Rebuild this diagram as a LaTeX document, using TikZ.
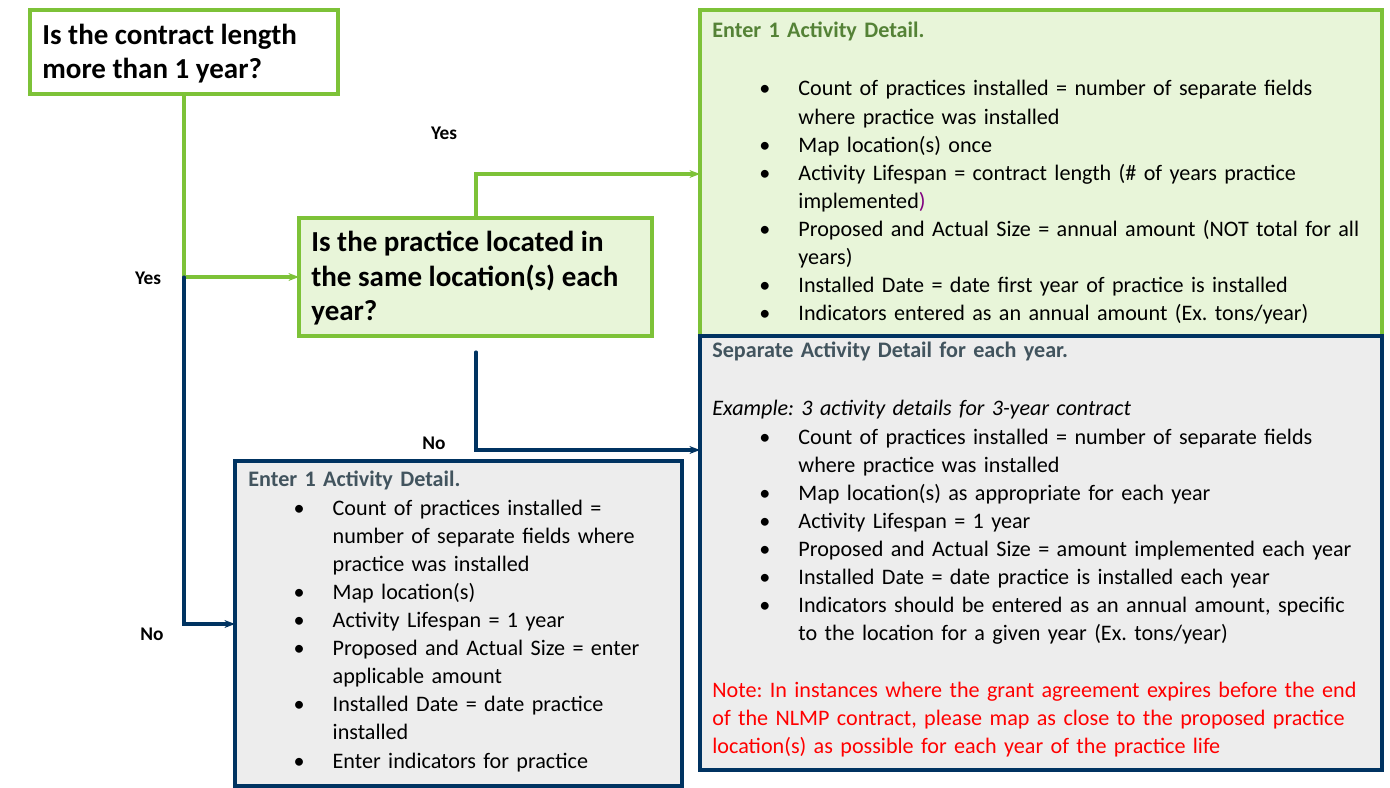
\documentclass[tikz,border=0pt]{standalone}
\usepackage{fontspec}
\setmainfont{Carlito}
\usepackage{enumitem}
\usetikzlibrary{arrows.meta}
\definecolor{qgreen}{rgb}{0.49,0.76,0.22}
\definecolor{lgreen}{rgb}{0.91,0.96,0.85}
\definecolor{dgreen}{rgb}{0.33,0.51,0.21}
\definecolor{dblue}{rgb}{0.0,0.2,0.38}
\definecolor{lgray}{rgb}{0.93,0.93,0.93}
\definecolor{sgray}{rgb}{0.26,0.33,0.37}
\newcommand{\bodyfont}{\fontsize{12.6}{16}\selectfont\frenchspacing\hyphenpenalty=10000\exhyphenpenalty=10000}
\setlist[itemize]{label=\textbullet,topsep=0pt,itemsep=0pt,parsep=0pt,partopsep=0pt}
\begin{document}
\begin{tikzpicture}[x=0.02cm,y=-0.02cm,line cap=round,
  qbox/.style={draw=qgreen,line width=2pt},
  gbox/.style={draw=qgreen,fill=lgreen,line width=2pt},
  bbox/.style={draw=dblue,fill=lgray,line width=2pt},
  qtext/.style={anchor=north west,inner sep=0pt,align=left,font=\fontsize{16.5}{19.5}\selectfont\bfseries},
  btext/.style={anchor=north west,inner sep=0pt,align=left,font=\bodyfont},
  yes/.style={qgreen,line width=1.8pt,-{Stealth[length=6pt]}},
  no/.style={dblue,line width=1.8pt,-{Stealth[length=6pt]}},
  lbl/.style={font=\fontsize{11}{13}\selectfont\bfseries}]
\useasboundingbox (0,0) rectangle (1390,788);
% boxes
\draw[qbox] (30,10) rectangle (338,94);
\draw[gbox] (299,218) rectangle (652,336);
\draw[gbox] (700,10) rectangle (1382,336);
\draw[bbox] (700,336) rectangle (1382,770);
\draw[bbox] (235,461) rectangle (682,786);
\node[qtext] (q1) at (42,24) {Is the contract length\\more than 1 year?};
\node[qtext] (q2) at (311,231) {Is the practice located in\\the same location(s) each\\year?};
% top right
\node[btext,text width=373pt] (ta) at (712,22) {{\bfseries\color{dgreen}Enter 1 Activity Detail.}\\[17pt]
\begin{itemize}[leftmargin=49pt,labelsep=16pt]
\item Count of practices installed = number of separate fields where practice was installed
\item Map location(s) once
\item Activity Lifespan = contract length (\# of years practice implemented{\color{violet})}
\item Proposed and Actual Size = annual amount (NOT total for all years)
\item Installed Date = date first year of practice is installed
\item Indicators entered as an annual amount (Ex. tons/year)
\end{itemize}};
% bottom right
\node[btext,text width=373pt] (tb) at (712,342) {{\bfseries\color{sgray}Separate Activity Detail for each year.}\\[17pt]
\textit{Example: 3 activity details for 3-year contract}
\begin{itemize}[leftmargin=49pt,labelsep=16pt]
\item Count of practices installed = number of separate fields where practice was installed
\item Map location(s) as appropriate for each year
\item Activity Lifespan = 1 year
\item Proposed and Actual Size = amount implemented each year
\item Installed Date = date practice is installed each year
\item Indicators should be entered as an annual amount, specific to the location for a given year (Ex. tons/year)
\end{itemize}
\vspace{16pt}
{\color{red}Note: In instances where the grant agreement expires before the end of the NLMP contract, please map as close to the proposed practice location(s) as possible for each year of the practice life}};
% bottom left
\node[btext,text width=232pt] (tc) at (248,471) {{\bfseries\color{sgray}Enter 1 Activity Detail.}
\begin{itemize}[leftmargin=48pt,labelsep=16pt]
\item Count of practices installed = number of separate fields where practice was installed
\item Map location(s)
\item Activity Lifespan = 1 year
\item Proposed and Actual Size = enter applicable amount
\item Installed Date = date practice installed
\item Enter indicators for practice
\end{itemize}};
% connectors
\coordinate (j1) at (184,277);
\draw[qgreen,line width=1.8pt] (184,94) -- (j1);
\draw[yes] (j1) -- (299,277);
\draw[no] (j1) -- (184,624) -- (235,624);
\draw[yes] (476,218) -- (476,174) -- (700,174);
\draw[no] (476,352) -- (476,450) -- (700,450);
\node[lbl] (y1) at (148,278) {Yes};
\node[lbl] (n1) at (152,634) {No};
\node[lbl] (y2) at (444,133) {Yes};
\node[lbl] (n2) at (434,443) {No};
\end{tikzpicture}
\end{document}
